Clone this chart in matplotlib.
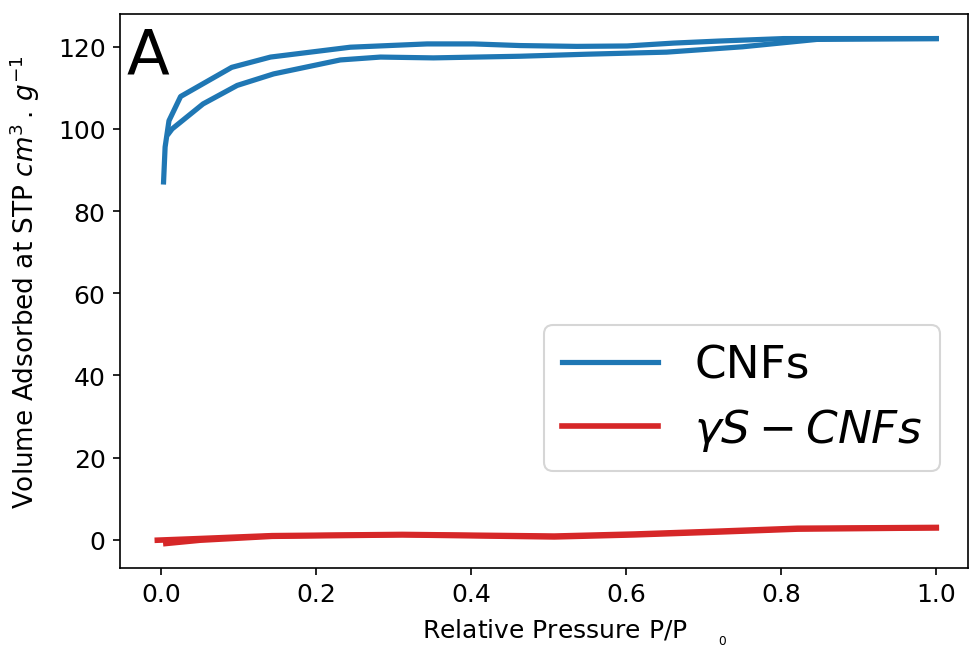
import matplotlib
matplotlib.use("Agg")
import matplotlib.pyplot as plt

# CNFs isotherm - two branches
cnf_low_p = [0.010, 0.014, 0.054, 0.098, 0.145, 0.231, 0.283, 0.351,
             0.463, 0.55, 0.652, 0.75, 0.846, 0.92, 1.0]
cnf_low_v = [99.0, 100.0, 106.1, 110.6, 113.4, 116.8, 117.5, 117.3,
             117.7, 118.2, 118.7, 120.0, 121.8, 121.9, 122.0]
cnf_up_p = [0.003, 0.005, 0.010, 0.025, 0.091, 0.141, 0.244, 0.343, 0.403,
            0.463, 0.536, 0.601, 0.661, 0.72, 0.803, 0.9, 1.0]
cnf_up_v = [87.1, 95.6, 102.0, 107.9, 115.0, 117.5, 119.9, 120.7, 120.7,
            120.3, 120.1, 120.2, 120.9, 121.4, 122.0, 122.0, 122.0]

# gamma S-CNFs isotherm
scnf_ads_p = [0.006, 0.05, 0.143, 0.311, 0.507, 0.611, 0.72, 0.821, 1.0]
scnf_ads_v = [-0.9, -0.1, 0.85, 1.2, 0.7, 1.2, 1.9, 2.6, 2.9]
scnf_des_p = [-0.005, 0.05, 0.143, 0.311, 0.507, 0.611, 0.72, 0.821, 1.0]
scnf_des_v = [-0.1, 0.3, 1.0, 1.3, 0.9, 1.4, 2.1, 2.8, 3.0]

fig, ax = plt.subplots(figsize=(6.46, 4.313), dpi=150)
fig.subplots_adjust(left=0.124, right=0.999, top=0.977, bottom=0.121)

ax.plot(cnf_low_p, cnf_low_v, color="tab:blue", lw=2.5, label="CNFs")
ax.plot(cnf_up_p, cnf_up_v, color="tab:blue", lw=2.5)
ax.plot(scnf_ads_p, scnf_ads_v, color="tab:red", lw=2.7, label=r"$\gamma S-CNFs$")
ax.plot(scnf_des_p, scnf_des_v, color="tab:red", lw=2.7)

ax.set_xlim(-0.053, 1.041)
ax.set_ylim(-6.8, 128)
ax.set_xlabel(r"Relative Pressure P/P    $_{_0}$", fontsize=12, ha="left")
ax.xaxis.set_label_coords(0.356, -0.088)
ax.set_ylabel(r"Volume Adsorbed at STP $cm^3\,.\,g^{-1}$", fontsize=12.6,
              ha="left")
ax.yaxis.set_label_coords(-0.092, 0.107)
ax.tick_params(labelsize=12)

ax.text(0.008, 0.893, "A", transform=ax.transAxes, fontsize=30)
ax.legend(loc="lower right", bbox_to_anchor=(0.967, 0.175), borderaxespad=0,
          fontsize=21.8, handlelength=2.1, labelspacing=0.42)

fig.savefig("out.png", dpi=150)
